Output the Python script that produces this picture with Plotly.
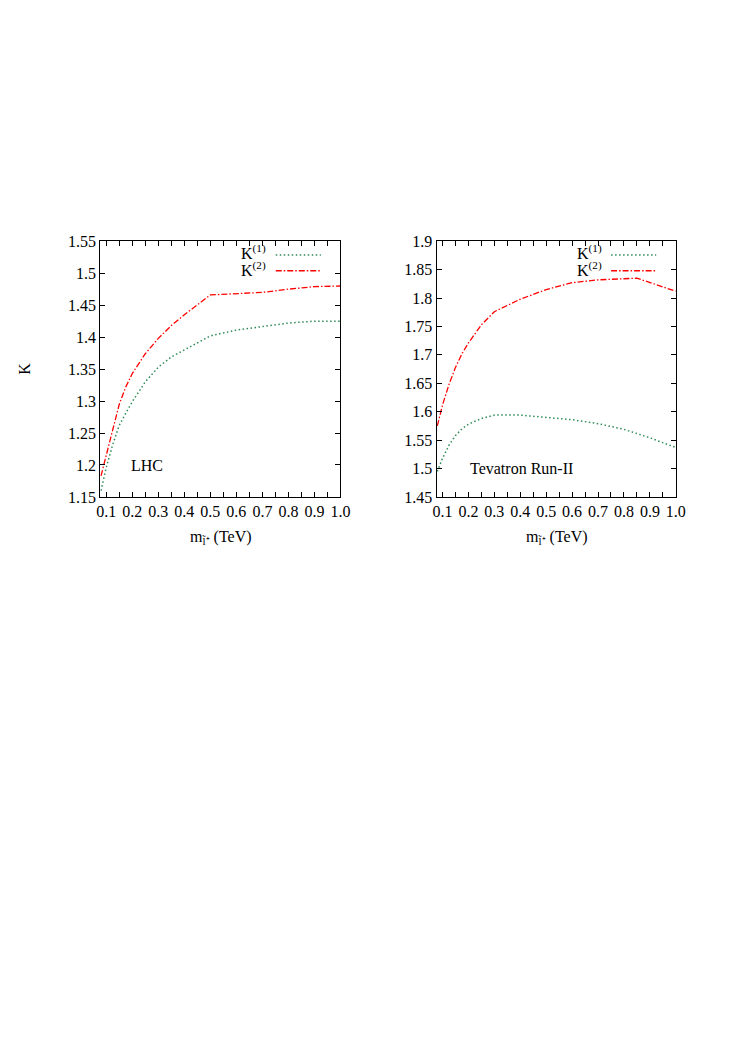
import plotly.graph_objects as go

# ---- data ----
lhc_x = [0.08, 0.1, 0.125, 0.15, 0.175, 0.2, 0.25, 0.3, 0.35, 0.4, 0.5, 0.6, 0.7, 0.8, 0.9, 1.0]
lhc_k1 = [1.160, 1.196, 1.232, 1.262, 1.281, 1.299, 1.330, 1.353, 1.369, 1.380, 1.402, 1.411, 1.417, 1.422, 1.425, 1.425]
lhc_k2 = [1.183, 1.216, 1.258, 1.295, 1.322, 1.343, 1.374, 1.398, 1.418, 1.435, 1.466, 1.468, 1.470, 1.475, 1.479, 1.480]

tev_x1 = [0.08, 0.1, 0.125, 0.15, 0.175, 0.2, 0.25, 0.3, 0.4, 0.5, 0.6, 0.7, 0.8, 0.9, 1.0]
tev_k1 = [1.495, 1.518, 1.541, 1.558, 1.570, 1.578, 1.588, 1.594, 1.594, 1.590, 1.586, 1.579, 1.569, 1.554, 1.537]
tev_x2 = [0.08, 0.1, 0.125, 0.15, 0.175, 0.2, 0.25, 0.3, 0.4, 0.5, 0.6, 0.7, 0.75, 0.85, 1.0]
tev_k2 = [1.575, 1.612, 1.648, 1.678, 1.702, 1.721, 1.753, 1.776, 1.798, 1.815, 1.827, 1.832, 1.833, 1.835, 1.812]

x_tickvals = [round(0.1 + 0.05 * i, 2) for i in range(19)]
x_ticktext = [("%.1f" % v) if i % 2 == 0 else "" for i, v in enumerate(x_tickvals)]
lhc_yticks = [1.15, 1.2, 1.25, 1.3, 1.35, 1.4, 1.45, 1.5, 1.55]
lhc_ytext = ["1.15", "1.2", "1.25", "1.3", "1.35", "1.4", "1.45", "1.5", "1.55"]
tev_yticks = [1.45, 1.5, 1.55, 1.6, 1.65, 1.7, 1.75, 1.8, 1.85, 1.9]
tev_ytext = ["1.45", "1.5", "1.55", "1.6", "1.65", "1.7", "1.75", "1.8", "1.85", "1.9"]

OFF = 8  # page body margin
W, H = 734 - 2 * OFF, 1049 - 2 * OFF
GREEN = "#2e8b57"
RED = "#ff0000"
FONT = "Liberation Serif"
DOTS = "1.5px,2.5px"
DASHDOT = "6px,2px,1.5px,2px"

def px(x):
    return (x - OFF) / W

def py(y):
    return 1 - (y - OFF) / H

fig = go.Figure()
fig.add_trace(go.Scatter(x=lhc_x, y=lhc_k1, mode="lines", line=dict(color=GREEN, width=1.5, dash=DOTS),
                         xaxis="x", yaxis="y", showlegend=False))
fig.add_trace(go.Scatter(x=lhc_x, y=lhc_k2, mode="lines", line=dict(color=RED, width=1.3, dash=DASHDOT),
                         xaxis="x", yaxis="y", showlegend=False))
fig.add_trace(go.Scatter(x=tev_x1, y=tev_k1, mode="lines", line=dict(color=GREEN, width=1.5, dash=DOTS),
                         xaxis="x2", yaxis="y2", showlegend=False))
fig.add_trace(go.Scatter(x=tev_x2, y=tev_k2, mode="lines", line=dict(color=RED, width=1.3, dash=DASHDOT),
                         xaxis="x2", yaxis="y2", showlegend=False))

axis_common = dict(showline=True, linecolor="black", linewidth=1, mirror="ticks", ticks="inside",
                   tickcolor="black", ticklen=5, showgrid=False, zeroline=False,
                   tickfont=dict(family=FONT, size=16, color="black"))

xd1 = [px(98), px(343)]
xd2 = [px(441), px(685)]
yd = [py(497), py(237)]

fig.update_layout(
    width=W, height=H, margin=dict(l=0, r=0, t=0, b=0),
    paper_bgcolor="white", plot_bgcolor="white",
    font=dict(family=FONT, size=16, color="black"),
    xaxis=dict(domain=xd1, range=[0.077, 1.0], tickmode="array", tickvals=x_tickvals, ticktext=x_ticktext,
               anchor="y", **axis_common),
    yaxis=dict(domain=yd, range=[1.15, 1.55], tickmode="array", tickvals=lhc_yticks, ticktext=lhc_ytext,
               anchor="x", **axis_common),
    xaxis2=dict(domain=xd2, range=[0.077, 1.0], tickmode="array", tickvals=x_tickvals, ticktext=x_ticktext,
                anchor="y2", **axis_common),
    yaxis2=dict(domain=yd, range=[1.45, 1.9], tickmode="array", tickvals=tev_yticks, ticktext=tev_ytext,
                anchor="x2", **axis_common),
)

ann_font = dict(family=FONT, size=16, color="black")
annotations = [
    dict(text="K", x=px(20), y=py(367), textangle=-90),
    dict(text="m<sub>l\u0303\u207a</sub> (TeV)", x=px(221), y=py(538)),
    dict(text="m<sub>l\u0303\u207a</sub> (TeV)", x=px(564), y=py(538)),
    dict(text="LHC", x=px(146), y=py(465)),
    dict(text="Tevatron Run-II", x=px(528), y=py(468)),
    dict(text="K<sup>(1)</sup>", x=px(269), y=py(248), xanchor="right"),
    dict(text="K<sup>(2)</sup>", x=px(269), y=py(265), xanchor="right"),
    dict(text="K<sup>(1)</sup>", x=px(612), y=py(248), xanchor="right"),
    dict(text="K<sup>(2)</sup>", x=px(612), y=py(265), xanchor="right"),
]
for a in annotations:
    a.setdefault("xanchor", "center")
    fig.add_annotation(xref="paper", yref="paper", yanchor="middle", showarrow=False, font=ann_font, **a)

shapes = [
    dict(x0=px(277), x1=px(323), y0=py(251), y1=py(251), line=dict(color=GREEN, width=1.5, dash=DOTS)),
    dict(x0=px(277), x1=px(323), y0=py(267), y1=py(267), line=dict(color=RED, width=1.3, dash=DASHDOT)),
    dict(x0=px(619), x1=px(665), y0=py(251), y1=py(251), line=dict(color=GREEN, width=1.5, dash=DOTS)),
    dict(x0=px(619), x1=px(665), y0=py(267), y1=py(267), line=dict(color=RED, width=1.3, dash=DASHDOT)),
]
for s in shapes:
    fig.add_shape(type="line", xref="paper", yref="paper", **s)

fig.write_html("out.html")
